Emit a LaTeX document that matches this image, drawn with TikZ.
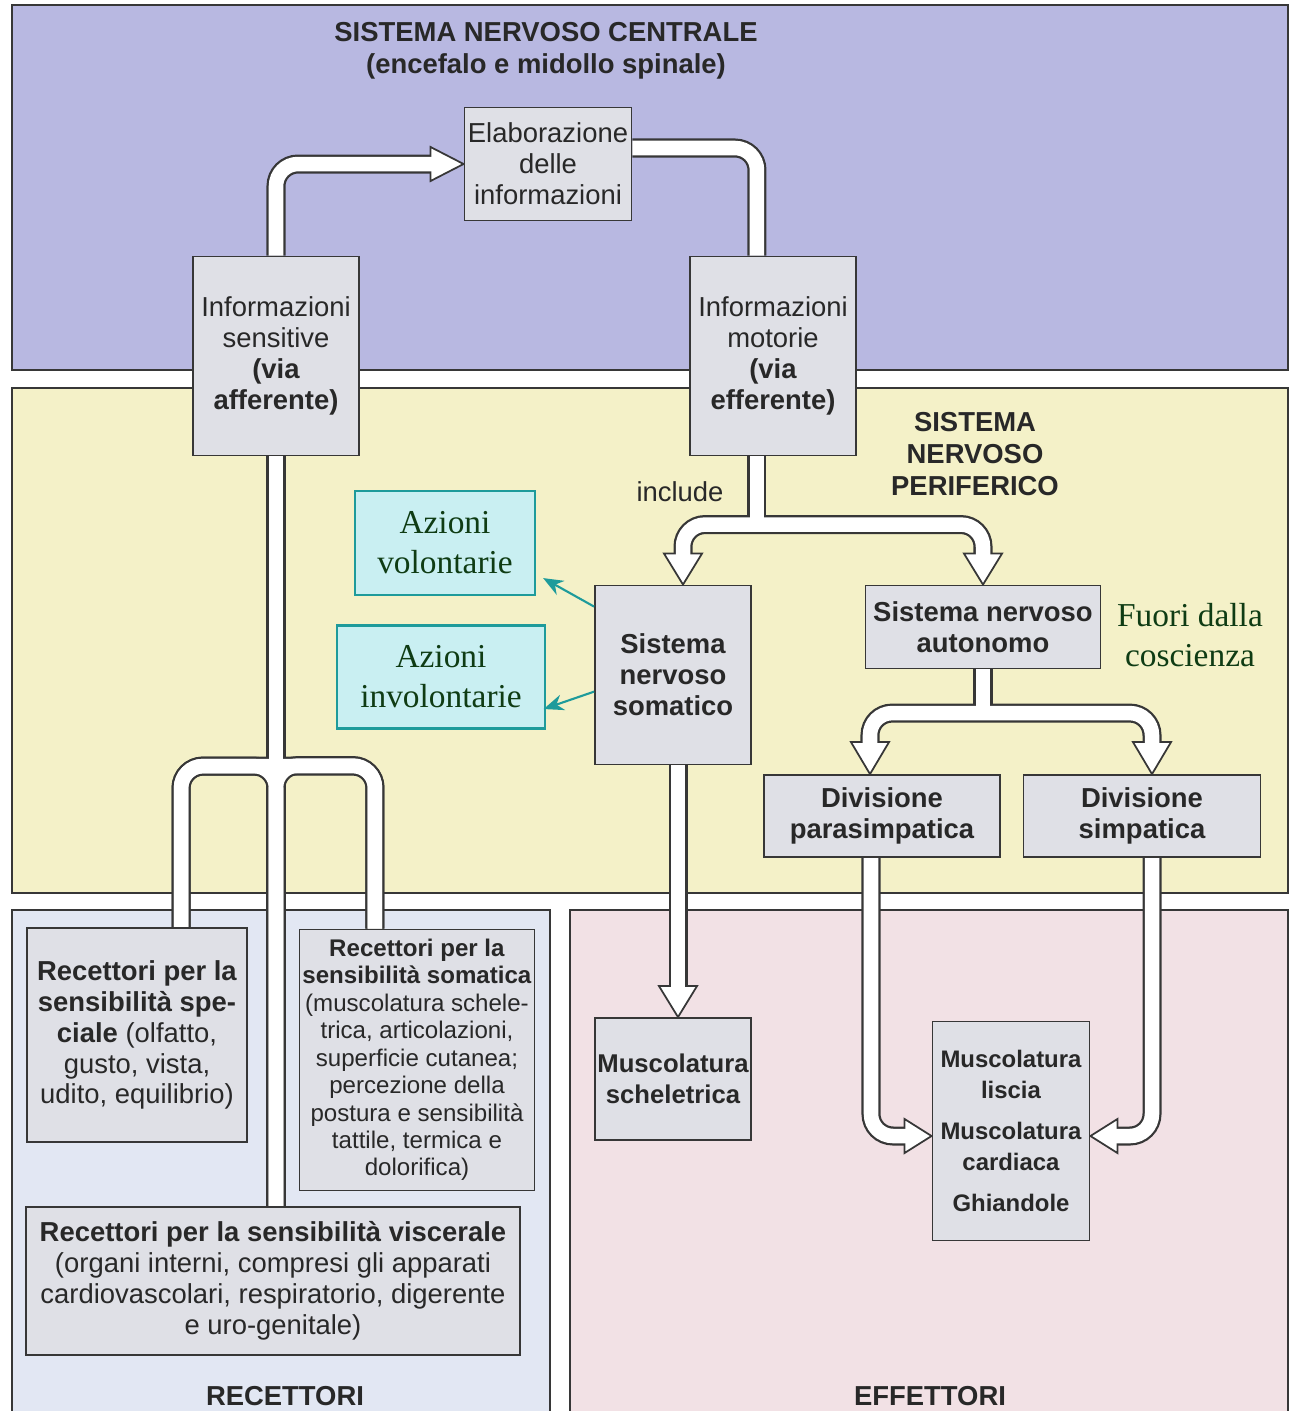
\documentclass[tikz,border=0pt]{standalone}
\usepackage{fontspec}
\setmainfont{Liberation Sans}
\newfontfamily\timesfont{Liberation Serif}
\usepackage{tikz}
\usetikzlibrary{arrows.meta}

\definecolor{cnsbg}{RGB}{184,184,225}
\definecolor{pnsbg}{RGB}{244,241,200}
\definecolor{recbg}{RGB}{226,231,243}
\definecolor{effbg}{RGB}{242,225,229}
\definecolor{boxbg}{RGB}{223,224,230}
\definecolor{dline}{RGB}{55,55,55}
\definecolor{txt}{RGB}{40,40,40}
\definecolor{azfill}{RGB}{201,239,242}
\definecolor{azline}{RGB}{30,155,155}
\definecolor{azgreen}{RGB}{15,60,20}

\pgfdeclarelayer{bg}
\pgfdeclarelayer{pipes}
\pgfsetlayers{bg,pipes,main}

\begin{document}
\begin{tikzpicture}[x=0.01cm, y=-0.01cm,
    box/.style = {draw=dline, fill=boxbg, line width=0.5pt, align=center, inner sep=0pt,
                  text=txt, font=\fontsize{7.8}{8.8}\selectfont},
    bbox/.style = {box, font=\fontsize{7.8}{8.8}\selectfont\bfseries},
    title/.style = {align=center, text=txt, font=\fontsize{7.8}{9.0}\selectfont\bfseries},
    tag/.style = {text=txt, font=\fontsize{7.8}{8.8}\selectfont},
    azbox/.style = {draw=azline, fill=azfill, line width=0.6pt, align=center, inner sep=0pt,
                    text=azgreen, font=\timesfont\fontsize{9.5}{11.4}\selectfont},
    note/.style = {align=center, text=azgreen, font=\timesfont\fontsize{9.5}{11.4}\selectfont},
    azarrow/.style = {draw=azline, line width=0.6pt, -{Stealth[length=0.2cm,width=0.16cm]}},
    panel/.style = {draw=dline, line width=0.4pt},
    pipe/.style = {draw=dline, line width=0.19cm, rounded corners=0.22cm},
    pipein/.style = {draw=white, line width=0.145cm, rounded corners=0.22cm},
    head/.style = {draw=dline, fill=white, line width=0.5pt, line join=miter}
]
\useasboundingbox (0,0) rectangle (1290,1411);

% panels
\begin{pgfonlayer}{bg}
    \fill[white] (0,0) rectangle (1290,1411);
    \draw[panel, fill=cnsbg] (12,5) rectangle (1288,370);
    \draw[panel, fill=pnsbg] (12,388) rectangle (1288,893);
    \fill[recbg] (12,910) rectangle (550,1411);
    \draw[panel] (12,1411) -- (12,910) -- (550,910) -- (550,1411);
    \fill[effbg] (570,910) rectangle (1288,1411);
    \draw[panel] (570,1411) -- (570,910) -- (1288,910) -- (1288,1411);
\end{pgfonlayer}

% titles
\node[title] (snc) at (546,51) {SISTEMA NERVOSO CENTRALE\\(encefalo e midollo spinale)};
\node[title] (snp) at (975,454) {SISTEMA\\NERVOSO\\PERIFERICO};
\node[title] (rec) at (285,1396) {RECETTORI};
\node[title] (eff) at (930,1396) {EFFETTORI};
\node[tag] (incl) at (680,492) {include};

% boxes
\node[box, minimum width=1.67cm, minimum height=1.13cm] (elab) at (548,164) {Elaborazione\\delle\\informazioni};
\node[box, minimum width=1.66cm, minimum height=1.99cm] (sens) at (276,356) {Informazioni\\sensitive\\\textbf{(via}\\\textbf{afferente)}};
\node[box, minimum width=1.66cm, minimum height=1.99cm] (mot) at (773,356) {Informazioni\\motorie\\\textbf{(via}\\\textbf{efferente)}};
\node[bbox, minimum width=1.56cm, minimum height=1.79cm] (soma) at (673,675) {Sistema\\nervoso\\somatico};
\node[bbox, minimum width=2.35cm, minimum height=0.83cm] (auto) at (983,627) {Sistema nervoso\\autonomo};
\node[bbox, minimum width=2.36cm, minimum height=0.82cm] (para) at (882,816) {Divisione\\parasimpatica};
\node[bbox, minimum width=2.37cm, minimum height=0.82cm] (simp) at (1142,816) {Divisione\\simpatica};
\node[box, minimum width=2.20cm, minimum height=2.14cm] (spec) at (137,1035) {\textbf{Recettori per la}\\\textbf{sensibilità spe-}\\\textbf{ciale} (olfatto,\\gusto, vista,\\udito, equilibrio)};
\node[box, font=\fontsize{6.85}{7.8}\selectfont, minimum width=2.35cm, minimum height=2.61cm] (somr) at (417,1060) {\textbf{Recettori per la}\\\textbf{sensibilità somatica}\\(muscolatura schele-\\trica, articolazioni,\\superficie cutanea;\\percezione della\\postura e sensibilità\\tattile, termica e\\dolorifica)};
\node[box, minimum width=4.93cm, minimum height=1.48cm] (visc) at (273,1281) {\textbf{Recettori per la sensibilità viscerale}\\(organi interni, compresi gli apparati\\cardiovascolari, respiratorio, digerente\\e uro-genitale)};
\node[bbox, font=\fontsize{7.3}{8.8}\selectfont\bfseries, minimum width=1.56cm, minimum height=1.22cm] (schel) at (673,1079) {Muscolatura\\scheletrica};
\node[bbox, font=\fontsize{6.8}{8.8}\selectfont\bfseries, minimum width=1.57cm, minimum height=2.19cm] (liscia) at (1011,1131) {Muscolatura\\liscia\\[2.8pt]Muscolatura\\cardiaca\\[2.8pt]Ghiandole};

% annotations
\node[azbox, minimum width=1.80cm, minimum height=1.04cm] (vol) at (445,543) {Azioni\\volontarie};
\node[azbox, minimum width=2.07cm, minimum height=1.03cm] (invol) at (441,677) {Azioni\\involontarie};
\node[note] (fuori) at (1190,635) {Fuori dalla\\coscienza};
\draw[azarrow] ([yshift=-0.22cm]soma.north west) -- ([xshift=0.07cm,yshift=0.18cm]vol.south east);
\draw[azarrow] ([yshift=-1.07cm]soma.north west) -- ([xshift=-0.02cm,yshift=-0.32cm]invol.east);

% hollow pathways
\begin{pgfonlayer}{pipes}
    % afferent to processing, processing to efferent
    \draw[pipe] (sens.north) |- ([xshift=-0.32cm]elab.west);
    \draw[pipe] ([yshift=0.16cm]elab.east) -| ([xshift=-0.16cm]mot.north);
    \draw[head] (elab.west) -- ++(-33,-17) -- ++(0,34) -- cycle;
    \draw[pipein] (sens.north) |- ([xshift=-0.3cm]elab.west);
    \draw[pipein] ([yshift=0.16cm]elab.east) -| ([xshift=-0.16cm]mot.north);

    % efferent split
    \draw[pipe] ([xshift=-0.16cm]mot.south) -- ++(0,72);
    \draw[pipe] ([xshift=0.1cm,yshift=0.31cm]soma.north) -- ++(0,-29) -| ([yshift=0.31cm]auto.north);
    \draw[head] ([xshift=0.1cm]soma.north) -- ++(-19,-31) -- ++(38,0) -- cycle;
    \draw[head] (auto.north) -- ++(-19,-31) -- ++(38,0) -- cycle;
    \draw[pipein] ([xshift=-0.16cm]mot.south) -- ++(0,72);
    \draw[pipein] ([xshift=0.1cm,yshift=0.29cm]soma.north) -- ++(0,-31) -| ([yshift=0.29cm]auto.north);

    % autonomic split
    \draw[pipe] (auto.south) -- ++(0,47);
    \draw[pipe] ([xshift=-0.12cm,yshift=0.32cm]para.north) -- ++(0,-29) -| ([xshift=0.1cm,yshift=0.32cm]simp.north);
    \draw[head] ([xshift=-0.12cm]para.north) -- ++(-19,-32) -- ++(38,0) -- cycle;
    \draw[head] ([xshift=0.1cm]simp.north) -- ++(-19,-32) -- ++(38,0) -- cycle;
    \draw[pipein] (auto.south) -- ++(0,47);
    \draw[pipein] ([xshift=-0.12cm,yshift=0.30cm]para.north) -- ++(0,-31) -| ([xshift=0.1cm,yshift=0.30cm]simp.north);

    % somatic to skeletal muscle
    \draw[pipe] ([xshift=0.05cm]soma.south) -- ([xshift=0.05cm,yshift=0.31cm]schel.north);
    \draw[head] ([xshift=0.05cm]schel.north) -- ++(-19,-31) -- ++(38,0) -- cycle;
    \draw[pipein] ([xshift=0.05cm]soma.south) -- ([xshift=0.05cm,yshift=0.29cm]schel.north);

    % divisions to effectors
    \draw[pipe] ([xshift=-0.11cm]para.south) |- ([xshift=-0.27cm,yshift=-0.05cm]liscia.west);
    \draw[pipe] ([xshift=0.1cm]simp.south) |- ([xshift=0.27cm,yshift=-0.05cm]liscia.east);
    \draw[head] ([yshift=-0.05cm]liscia.west) -- ++(-27,-17) -- ++(0,34) -- cycle;
    \draw[head] ([yshift=-0.05cm]liscia.east) -- ++(27,-17) -- ++(0,34) -- cycle;
    \draw[pipein] ([xshift=-0.11cm]para.south) |- ([xshift=-0.25cm,yshift=-0.05cm]liscia.west);
    \draw[pipein] ([xshift=0.1cm]simp.south) |- ([xshift=0.25cm,yshift=-0.05cm]liscia.east);

    % receptors to afferent
    \draw[pipe] (sens.south) -- (sens.south |- visc.north);
    \draw[pipe] ([xshift=0.44cm]spec.north) -- ++(0,-161) -| ([xshift=-0.42cm]somr.north);
    \draw[pipe] ([xshift=0.44cm]spec.north) -- ++(0,-161) -| (sens.south |- visc.north);
    \draw[pipe] ([xshift=-0.42cm]somr.north) -- ++(0,-163) -| (sens.south |- visc.north);
    \draw[pipein] (sens.south) -- (sens.south |- visc.north);
    \draw[pipein] ([xshift=0.44cm]spec.north) -- ++(0,-161) -| ([xshift=-0.42cm]somr.north);
    \draw[pipein] ([xshift=0.44cm]spec.north) -- ++(0,-161) -| (sens.south |- visc.north);
    \draw[pipein] ([xshift=-0.42cm]somr.north) -- ++(0,-163) -| (sens.south |- visc.north);
\end{pgfonlayer}
\end{tikzpicture}
\end{document}
